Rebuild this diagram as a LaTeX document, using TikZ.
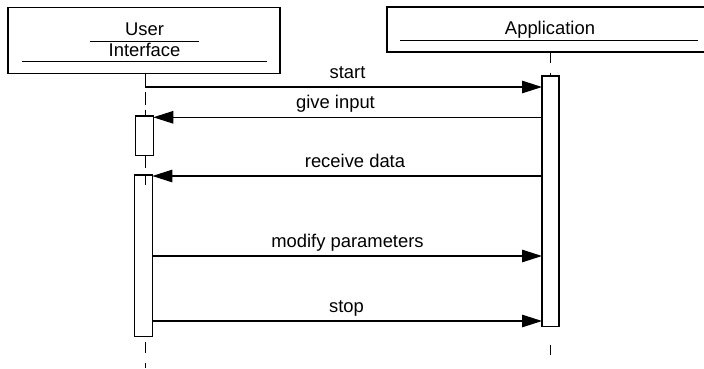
\documentclass[tikz,border=0pt]{standalone}
\usepackage{fontspec}
\setmainfont{Liberation Sans}
\usetikzlibrary{arrows.meta}
\begin{document}
\begin{tikzpicture}[x=1pt,y=-1pt,
  every node/.style={font=\fontsize{18.4}{20}\selectfont, inner sep=0pt, outer sep=0pt},
  headbox/.style={draw, line width=1.1pt, fill=white},
  actbox/.style={draw, line width=1.1pt, fill=white},
  rule/.style={line width=1pt},
  lifeline/.style={line width=1pt, dash pattern=on 13pt off 5pt},
  msg/.style={line width=1.2pt, -{Triangle[length=20pt,width=12.5pt]}},
  lbl/.style={anchor=base}]
\clip (0,0) rectangle (704,368);

% lifeline heads
\node[headbox, minimum width=272pt, minimum height=66pt] (user) at (144,40.5) {};
\node[lbl] (userA) at (144.5,35) {User};
\node[lbl] (userB) at (144.5,56) {Interface};
\draw[rule] (90,41.5) -- (199,41.5);
\draw[rule] (22,61.5) -- (267,61.5);

\node[headbox, minimum width=326pt, minimum height=45pt] (app) at (550,29.5) {};
\node[lbl] (appA) at (550,34) {Application};
\draw[rule] (400,40) -- (698,40);

% dashed lifelines
\coordinate (u0) at (145,73.5);
\coordinate (u1) at (145,116);
\coordinate (u2) at (145,155.7);
\coordinate (u3) at (145,185);
\coordinate (u4) at (145,336.7);
\coordinate (u5) at (145,368);
\coordinate (a0) at (550.5,52);
\coordinate (a1) at (550.5,76);
\coordinate (a2) at (550.5,326.7);
\coordinate (a3) at (550.5,368);
\draw[lifeline] (u0) -- (u1);
\draw[line width=1pt, dash pattern=on 11pt off 10pt, dash phase=16pt] (u4) -- (u5);
\draw[line width=1pt, dash pattern=on 11pt off 10pt] (a0) -- (a1);
\draw[line width=1pt, dash pattern=on 10pt off 18pt, dash phase=10pt] (a2) -- (a3);

% activation bars
\node[actbox, minimum width=17pt, minimum height=250.7pt] (actA) at (550.5,201.35) {};
\node[actbox, minimum width=17.6pt, minimum height=39.7pt] (actU1) at (144.5,135.85) {};
\node[actbox, minimum width=18.3pt, minimum height=161.7pt] (actU2) at (143.2,255.85) {};
\draw[line width=1pt, dash pattern=on 12pt off 7pt] (u2) -- (u3);

% messages
\coordinate (s0) at (145,87);
\draw[msg] (s0) -- (s0 -| actA.west);
\draw[msg] (actA.west |- 0,117.3) -- (actU1.east |- 0,117.3);
\draw[msg] (actA.west |- 0,176) -- (actU2.east |- 0,176);
\draw[msg] (actU2.east |- 0,256) -- (actA.west |- 0,256);
\draw[msg] (actU2.east |- 0,321) -- (actA.west |- 0,321);

\node[lbl] (m1) at (347.5,78) {start};
\node[lbl] (m2) at (335.5,108) {give input};
\node[lbl] (m3) at (355,167) {receive data};
\node[lbl] (m4) at (347.5,247) {modify parameters};
\node[lbl] (m5) at (346.5,312) {stop};
\end{tikzpicture}
\end{document}
